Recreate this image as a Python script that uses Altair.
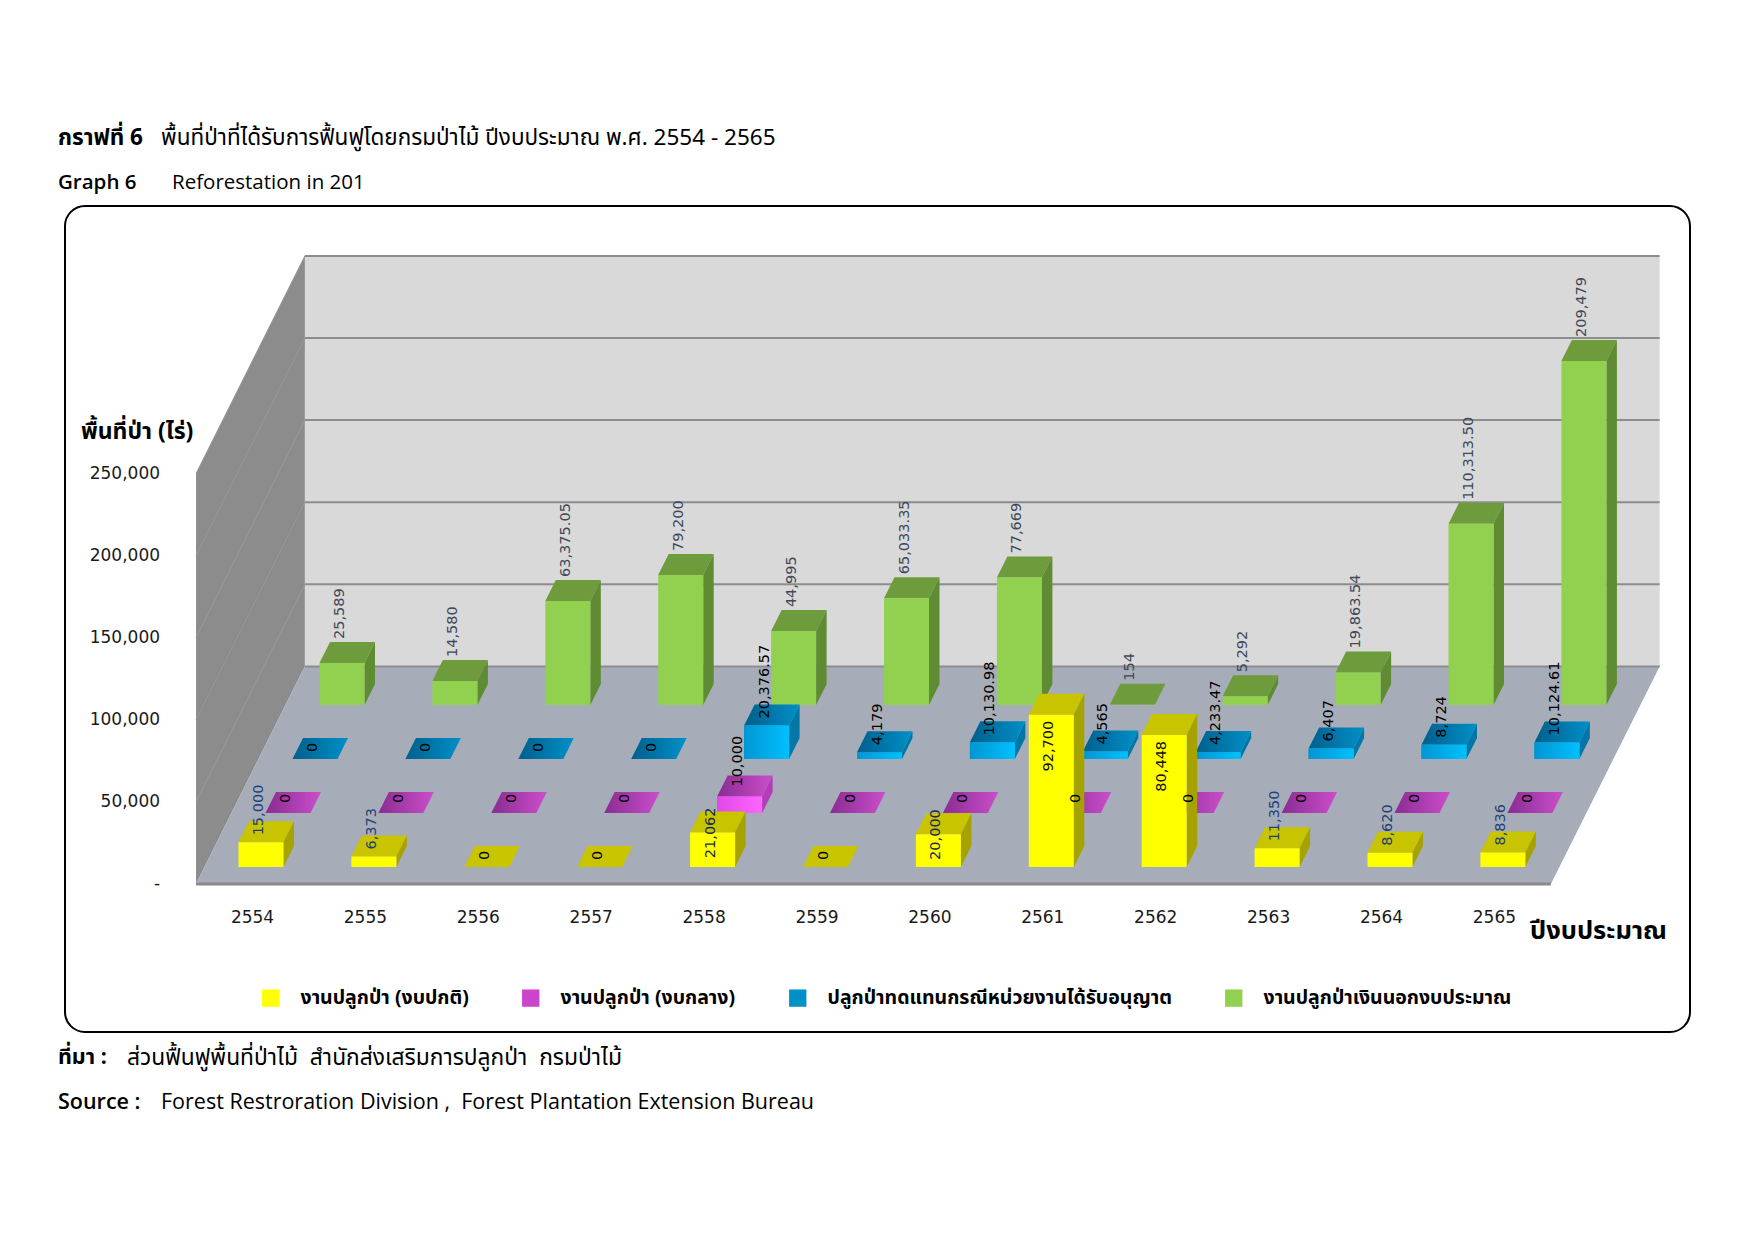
import altair as alt
import pandas as pd

# ---------------- data ----------------
years = ["2554", "2555", "2556", "2557", "2558", "2559",
         "2560", "2561", "2562", "2563", "2564", "2565"]
series_names = [
    "งานปลูกป่า (งบปกติ)",
    "งานปลูกป่า (งบกลาง)",
    "ปลูกป่าทดแทนกรณีหน่วยงานได้รับอนุญาต",
    "งานปลูกป่าเงินนอกงบประมาณ",
]
normal_budget = [15000, 6373, 0, 0, 21062, 0, 20000, 92700, 80448, 11350, 8620, 8836]
central_budget = [0, 0, 0, 0, 10000, 0, 0, 0, 0, 0, 0, 0]
permit_replacement = [0, 0, 0, 0, 20376.57, 4179, 10130.98, 4565, 4233.47, 6407, 8724, 10124.61]
off_budget = [25589, 14580, 63375.05, 79200, 44995, 65033.35, 77669, 154, 5292, 19863.54, 110313.50, 209479]
y_ticks = [0, 50000, 100000, 150000, 200000, 250000]
y_tick_labels = ["-", "50,000", "100,000", "150,000", "200,000", "250,000"]

# ---------------- layout / projection ----------------
W, H = 1739, 1225
PXU = 112.9          # px per year slot
PXV = 0.001642       # px per rai
X0, Y0 = 244.5, 876.0
XMIN = -X0 / PXU
XMAX = XMIN + W / PXU
YMAX = Y0 / PXV
YMIN = YMAX - H / PXV
ROW_DEPTH = [17, 71, 125, 179]   # yellow, magenta, blue, green (px of depth)
BAR_DEPTH = 21
FLOOR_DEPTH = 217.6
HALF = 22.5 / PXU
NCAT = len(years)


def su(k):
    return 0.5 * k / PXU


def sv(k):
    return k / PXV


xs = alt.Scale(domain=[XMIN, XMAX], nice=False, zero=False)
ys = alt.Scale(domain=[YMIN, YMAX], nice=False, zero=False)

THAI = "Noto Sans Thai, Tahoma, Noto Sans, sans-serif"
NUM = "DejaVu Sans"
LAT = "Open Sans"

legend_colors = ["#FFFF00", "#CC44CC", "#0090C8", "#92D050"]


def grad(c1, c2):
    return alt.Gradient(gradient="linear",
                        stops=[alt.GradientStop(offset=0, color=c1),
                               alt.GradientStop(offset=1, color=c2)],
                        x1=0, x2=1, y1=0, y2=0)


styles = [
    dict(front="#FFFF00", top="#C8C400", side="#A6A300", over=None),
    dict(front="#F050F0", top=grad("#8A2C92", "#CB4ECB"), side="#B43CB8", over=grad("#E048E8", "#FF66FF")),
    dict(front="#00B0F0", top=grad("#005F8C", "#0090C8"), side="#0077A6", over=grad("#0096D2", "#00C0FF")),
    dict(front="#92D050", top="#6E9B3C", side="#5F8B32", over=None),
]

values_by_series = [normal_budget, central_budget, permit_replacement, off_budget]


def fmt(v):
    if float(v) == int(v):
        return f"{int(v):,}"
    return f"{v:,.2f}"


# ---------------- background (walls, floor, grid) ----------------
one = pd.DataFrame({"a": [0]})
FD = FLOOR_DEPTH

back_wall = alt.Chart(pd.DataFrame({
    "x": [-0.5 + su(FD)], "x2": [NCAT - 0.5 + su(FD)],
    "y": [sv(FD)], "y2": [sv(FD) + 250000]})).mark_rect(fill="#D9D9D9").encode(
    x=alt.X("x:Q", scale=xs, axis=None), x2="x2:Q",
    y=alt.Y("y:Q", scale=ys, axis=None), y2="y2:Q")

left_wall = alt.Chart(pd.DataFrame({
    "x": [-0.5, -0.5 + su(FD)], "y": [0, sv(FD)],
    "y2": [250000, 250000 + sv(FD)]})).mark_area(fill="#8C8C8C").encode(
    x=alt.X("x:Q", scale=xs, axis=None),
    y=alt.Y("y:Q", scale=ys, axis=None, stack=None), y2="y2:Q")

floor = alt.Chart(pd.DataFrame({
    "y": [0, sv(FD)], "x": [-0.5, -0.5 + su(FD)],
    "x2": [NCAT - 0.5, NCAT - 0.5 + su(FD)]})).mark_area(
    orient="horizontal", fill="#A6ADB8").encode(
    y=alt.Y("y:Q", scale=ys, axis=None),
    x=alt.X("x:Q", scale=xs, axis=None, stack=None), x2="x2:Q")

grid_df = pd.DataFrame({"v": y_ticks})
grid_df["y"] = grid_df["v"] + sv(FD)
grid_df["x"] = -0.5 + su(FD)
grid_df["x2"] = NCAT - 0.5 + su(FD)
back_grid = alt.Chart(grid_df).mark_rule(color="#8C8C8C", strokeWidth=2).encode(
    x=alt.X("x:Q", scale=xs, axis=None), x2="x2:Q",
    y=alt.Y("y:Q", scale=ys, axis=None))

side_df = pd.DataFrame({"v": y_ticks[1:]})
side_df["x"] = -0.5
side_df["x2"] = -0.5 + su(FD)
side_df["y"] = side_df["v"]
side_df["y2"] = side_df["v"] + sv(FD)
side_grid = alt.Chart(side_df).mark_rule(color="#999999", strokeWidth=1).encode(
    x=alt.X("x:Q", scale=xs, axis=None), x2="x2:Q",
    y=alt.Y("y:Q", scale=ys, axis=None), y2="y2:Q")

front_edge = alt.Chart(pd.DataFrame({"x": [-0.5], "x2": [NCAT - 0.5], "y": [0]})).mark_rule(
    color="#8A8A8A", strokeWidth=3).encode(
    x=alt.X("x:Q", scale=xs, axis=None), x2="x2:Q",
    y=alt.Y("y:Q", scale=ys, axis=None))

layers = [back_wall, left_wall, side_grid, floor, back_grid, front_edge]

# ---------------- bars (back row first) ----------------
label_left, label_right = [], []
for s in [3, 2, 1, 0]:
    k = ROW_DEPTH[s]
    name = series_names[s]
    st = styles[s]
    front, top, side = [], [], []
    for i, v in enumerate(values_by_series[s]):
        left = i - HALF + su(k)
        right = i + HALF + su(k)
        base = sv(k)
        kb = k + BAR_DEPTH
        front.append(dict(series=name, i=i, x=left, x2=right, y=base, y2=base + v))
        top.append(dict(i=i, yv=base + v, xa=left, xb=right))
        top.append(dict(i=i, yv=sv(kb) + v, xa=left + su(BAR_DEPTH), xb=right + su(BAR_DEPTH)))
        side.append(dict(i=i, xs=right, ya=base, yb=base + v))
        side.append(dict(i=i, xs=right + su(BAR_DEPTH), ya=sv(kb), yb=sv(kb) + v))

        # value labels
        fc = i + su(k) - 2 / PXU
        topv = base + v
        txt = fmt(v)
        if s == 0 and v > 50000:
            label_right.append(dict(lx=fc, ly=topv - 6 / PXV, label=txt, c="#111111"))
        elif s == 0 and v >= 20000:
            label_right.append(dict(lx=fc, ly=topv + 25 / PXV, label=txt, c="#1B2A48"))
        else:
            off = {0: 7, 1: 10, 2: 7, 3: 24}[s]
            if s == 3:
                col = "#404858"
            elif s == 0 and v > 0:
                col = "#1F3F77"
            else:
                col = "#000000"
            label_left.append(dict(lx=fc, ly=topv + off / PXV, label=txt, c=col))

    fdf, tdf, sdf = pd.DataFrame(front), pd.DataFrame(top), pd.DataFrame(side)
    layers.append(alt.Chart(tdf).mark_area(orient="horizontal", fill=st["top"]).encode(
        y=alt.Y("yv:Q", scale=ys, axis=None),
        x=alt.X("xa:Q", scale=xs, axis=None, stack=None), x2="xb:Q",
        detail="i:N"))
    layers.append(alt.Chart(sdf).mark_area(fill=st["side"]).encode(
        x=alt.X("xs:Q", scale=xs, axis=None),
        y=alt.Y("ya:Q", scale=ys, axis=None, stack=None), y2="yb:Q",
        detail="i:N"))
    layers.append(alt.Chart(fdf).mark_rect().encode(
        x=alt.X("x:Q", scale=xs, axis=None), x2="x2:Q",
        y=alt.Y("y:Q", scale=ys, axis=None), y2="y2:Q",
        color=alt.Color("series:N",
                        scale=alt.Scale(domain=series_names, range=legend_colors),
                        legend=alt.Legend(orient="none", legendX=253, legendY=980,
                                          direction="horizontal", title=None,
                                          symbolType="square", symbolSize=300,
                                          symbolStrokeWidth=0, labelFont=THAI,
                                          labelFontSize=19.5, labelFontWeight="bold",
                                          labelColor="#000000", labelLimit=600,
                                          labelOffset=20, columnPadding=52))))
    if st["over"] is not None:
        layers.append(alt.Chart(fdf).mark_rect(fill=st["over"]).encode(
            x=alt.X("x:Q", scale=xs, axis=None), x2="x2:Q",
            y=alt.Y("y:Q", scale=ys, axis=None), y2="y2:Q"))

# ---------------- value labels ----------------
layers.append(alt.Chart(pd.DataFrame(label_left)).mark_text(
    angle=270, align="left", baseline="middle", font=NUM, fontSize=14.5).encode(
    x=alt.X("lx:Q", scale=xs, axis=None), y=alt.Y("ly:Q", scale=ys, axis=None),
    text="label:N", color=alt.Color("c:N", scale=None)))
layers.append(alt.Chart(pd.DataFrame(label_right)).mark_text(
    angle=270, align="right", baseline="middle", font=NUM, fontSize=14.5).encode(
    x=alt.X("lx:Q", scale=xs, axis=None), y=alt.Y("ly:Q", scale=ys, axis=None),
    text="label:N", color=alt.Color("c:N", scale=None)))

# ---------------- axis texts ----------------
ytick_df = pd.DataFrame({"v": y_ticks, "t": y_tick_labels})
ytick_df["x"] = -0.5 - 36 / PXU
layers.append(alt.Chart(ytick_df).mark_text(
    align="right", baseline="middle", font=NUM, fontSize=17, color="#1a1a1a").encode(
    x=alt.X("x:Q", scale=xs, axis=None), y=alt.Y("v:Q", scale=ys, axis=None), text="t:N"))

year_df = pd.DataFrame({"i": list(range(NCAT)), "t": years})
year_df["y"] = -34 / PXV
layers.append(alt.Chart(year_df).mark_text(
    align="center", baseline="middle", font=NUM, fontSize=17, color="#1a1a1a").encode(
    x=alt.X("i:Q", scale=xs, axis=None), y=alt.Y("y:Q", scale=ys, axis=None), text="t:N"))


def note(text, x, y, size, weight="normal", font=THAI, color="#000000"):
    return alt.Chart(one).mark_text(
        text=text, align="left", baseline="middle", font=font, fontSize=size,
        fontWeight=weight, color=color).encode(x=alt.value(x), y=alt.value(y))


SP = "\u00a0\u00a0"
layers += [
    note("กราฟที่ 6", 50, 130, 22.5, "bold"),
    note("พื้นที่ป่าที่ได้รับการฟื้นฟูโดยกรมป่าไม้ ปีงบประมาณ พ.ศ. 2554 - 2565", 153, 130, 22.5),
    note("Graph 6", 50, 175, 20.5, 600, font=LAT),
    note("Reforestation in 201", 164, 175, 20.5, "normal", font=LAT),
    note("พื้นที่ป่า (ไร่)", 73, 424, 23, "bold"),
    note("ปีงบประมาณ", 1522, 923, 25.5, "bold"),
    note("ที่มา :", 50, 1050, 21.5, "bold"),
    note("ส่วนฟื้นฟูพื้นที่ป่าไม้" + SP + "สำนักส่งเสริมการปลูกป่า" + SP + "กรมป่าไม้", 119, 1050, 22.8),
    note("Source :", 50, 1095, 21.5, 600, font=LAT),
    note("Forest Restroration Division ," + SP + "Forest Plantation Extension Bureau", 153, 1095, 21.5,
         "normal", font=LAT),
]

frame = alt.Chart(one).mark_rect(
    fill="transparent", stroke="#000000", strokeWidth=2, cornerRadius=20).encode(
    x=alt.value(57), x2=alt.value(1682), y=alt.value(198), y2=alt.value(1024))
layers.append(frame)

chart = alt.layer(*layers).properties(
    width=W, height=H, padding=0, background="#FFFFFF"
).configure_view(stroke=None)

chart.save("out.html", embed_options={"renderer": "svg", "actions": False})
